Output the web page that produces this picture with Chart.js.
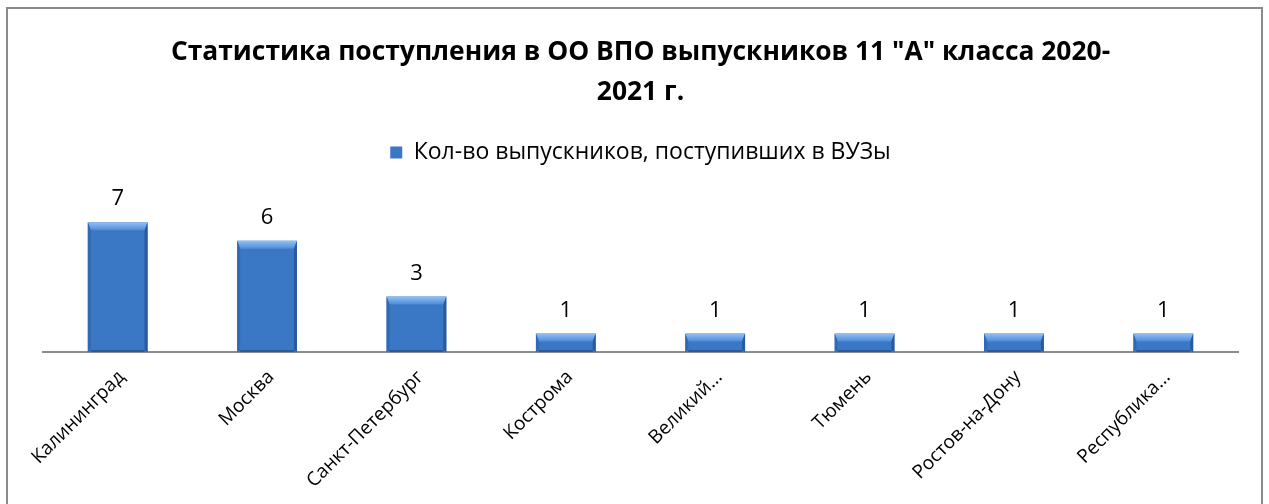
<!DOCTYPE html>
<html lang="ru">
<head>
<meta charset="utf-8">
<title>Статистика поступления</title>
<script src="https://cdn.jsdelivr.net/npm/chart.js@4/dist/chart.umd.min.js"></script>
<style>
  html, body { margin: 0; padding: 0; background: #fff; }
  #wrap { position: relative; width: 1269px; height: 504px; overflow: hidden; }
  #frame { position: absolute; left: 6px; top: 7px; width: 1257px; height: 520px;
           border: 2px solid #8a8a8a; box-sizing: border-box; pointer-events: none; }
  canvas { position: absolute; left: 0; top: 0; }
</style>
</head>
<body>
<div id="wrap">
  <canvas id="chart" width="1269" height="504"></canvas>
  <div id="frame"></div>
</div>
<script>
  /* Values */
  var CITIES = ["Калининград", "Москва", "Санкт-Петербург", "Кострома",
                "Великий...", "Тюмень", "Ростов-на-Дону", "Республика..."];
  var GRADUATES = [7, 6, 3, 1, 1, 1, 1, 1];
  var SERIES_NAME = "Кол-во выпускников, поступивших в ВУЗы";
  var TITLE_LINES = ["Статистика поступления в ОО ВПО выпускников 11 \"А\" класса 2020-", "2021 г."];

  var FONT = "'Open Sans', 'Noto Sans', 'DejaVu Sans', sans-serif";
  var BLUE = "#3a77c4";

  // Excel-like bevel on each bar, drawn from the bar elements' own geometry
  var bevel = {
    id: "bevel",
    afterDatasetsDraw: function (chart) {
      var ctx = chart.ctx;
      chart.getDatasetMeta(0).data.forEach(function (bar) {
        var p = bar.getProps(["x", "y", "base", "width"], true);
        var l = p.x - p.width / 2, r = p.x + p.width / 2, t = p.y, b = p.base;
        var st = Math.min(8, (b - t) / 2), ss = 3;
        ctx.save();
        var g = ctx.createLinearGradient(0, t, 0, t + st);
        g.addColorStop(0, "#93c1f4");
        g.addColorStop(1, "#4d8bd8");
        ctx.fillStyle = g;
        ctx.beginPath();
        ctx.moveTo(l, t); ctx.lineTo(r, t); ctx.lineTo(r - ss, t + st); ctx.lineTo(l + ss, t + st);
        ctx.closePath(); ctx.fill();
        ctx.fillStyle = "#3169b2";
        ctx.beginPath();
        ctx.moveTo(l, t); ctx.lineTo(l + ss, t + st); ctx.lineTo(l + ss, b - 2); ctx.lineTo(l, b);
        ctx.closePath(); ctx.fill();
        ctx.fillStyle = "#2a5a9c";
        ctx.beginPath();
        ctx.moveTo(r, t); ctx.lineTo(r - ss, t + st); ctx.lineTo(r - ss, b - 2); ctx.lineTo(r, b);
        ctx.closePath(); ctx.fill();
        ctx.fillStyle = "#2b5a98";
        ctx.fillRect(l + ss, b - 2, p.width - 2 * ss, 2);
        ctx.restore();
      });
    }
  };

  // Value labels above the bars
  var valueLabels = {
    id: "valueLabels",
    afterDatasetsDraw: function (chart) {
      var ctx = chart.ctx;
      ctx.save();
      ctx.font = "22px " + FONT;
      ctx.fillStyle = "#000";
      ctx.textAlign = "center";
      ctx.textBaseline = "middle";
      chart.getDatasetMeta(0).data.forEach(function (bar, i) {
        ctx.fillText(String(GRADUATES[i]), bar.x, bar.y - 23);
      });
      ctx.restore();
    }
  };

  new Chart(document.getElementById("chart"), {
    type: "bar",
    data: {
      labels: CITIES,
      datasets: [{
        label: SERIES_NAME,
        data: GRADUATES,
        backgroundColor: BLUE,
        borderColor: "#2c5c9e",
        borderWidth: 0,
        barPercentage: 0.4,
        categoryPercentage: 1
      }]
    },
    options: {
      responsive: false,
      animation: false,
      layout: { padding: { left: 43, right: 31, top: 0, bottom: 0 } },
      plugins: {
        title: {
          display: true,
          text: TITLE_LINES,
          color: "#000",
          font: { family: FONT, size: 26.4, weight: "bold", lineHeight: 40 / 26.4 },
          padding: { top: 32, bottom: 0 }
        },
        legend: {
          display: true,
          labels: {
            color: "#000",
            font: { family: FONT, size: 23 },
            boxWidth: 12, boxHeight: 12,
            padding: 29
          }
        },
        tooltip: { enabled: false }
      },
      scales: {
        x: {
          grid: { display: false },
          border: { display: true, color: "#8c8c8c", width: 2 },
          ticks: {
            color: "#000",
            font: { family: FONT, size: 19 },
            minRotation: 45, maxRotation: 45,
            autoSkip: false,
            padding: 6,
            labelOffset: 4
          },
          afterFit: function (scale) { scale.height = 152; }
        },
        y: {
          display: false,
          min: 0,
          max: 9.6
        }
      }
    },
    plugins: [bevel, valueLabels]
  });
</script>
</body>
</html>
